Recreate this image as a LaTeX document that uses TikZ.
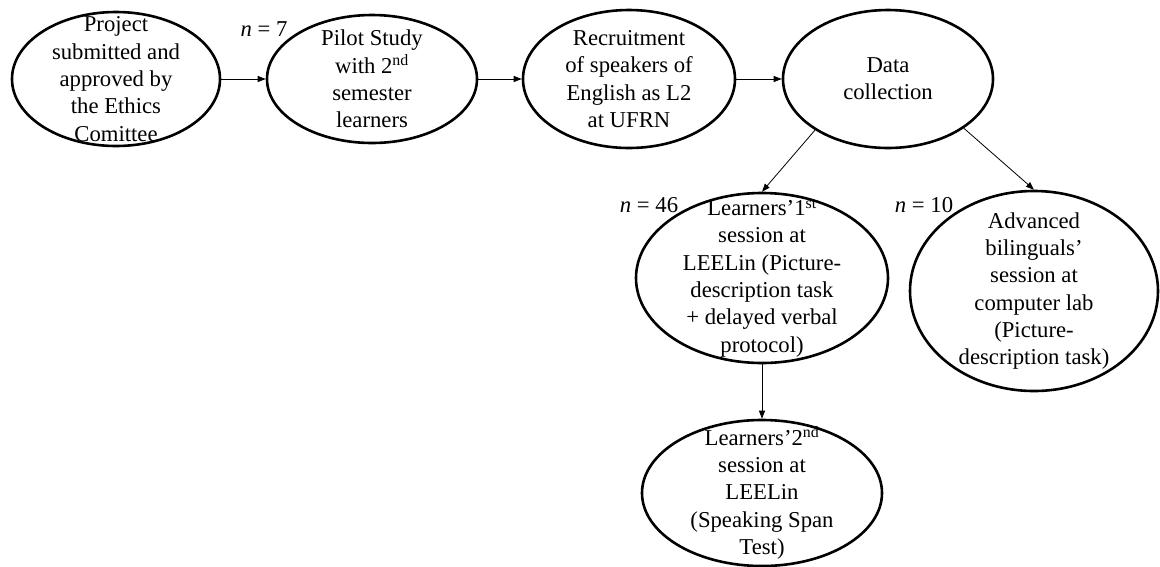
\documentclass[tikz,border=0pt]{standalone}
\usepackage{fontspec}
\setmainfont{Liberation Serif}
\usetikzlibrary{shapes.geometric,arrows.meta}
\begin{document}
\begin{tikzpicture}[x=1pt,y=-1pt,
  el/.style={ellipse, draw, line width=2.6pt, inner sep=0pt},
  txt/.style={align=center, inner sep=0pt, font=\fontsize{22.7}{27.3}\selectfont},
  arr/.style={-{Triangle[length=8pt,width=6pt]}, line width=0.8pt},
  lab/.style={font=\fontsize{22.7}{27.3}\selectfont, inner sep=0pt}]
\useasboundingbox (0,0) rectangle (1160,566);
\node[el, minimum width=208pt, minimum height=134pt] (proj) at (116,79) {};
\node[txt] (projt) at (proj) {Project\\submitted and\\approved by\\the Ethics\\Comittee};
\node[el, minimum width=210pt, minimum height=128pt] (pilot) at (372,79) {};
\node[txt] (pilott) at (pilot) {Pilot Study\\with 2\textsuperscript{nd}\\semester\\learners};
\node[el, minimum width=212pt, minimum height=138pt] (recr) at (629,79) {};
\node[txt] (recrt) at (recr) {Recruitment\\of speakers of\\English as L2\\at UFRN};
\node[el, minimum width=210pt, minimum height=138pt] (data) at (888,79) {};
\node[txt] (datat) at (data) {Data\\collection};
\node[el, minimum width=252pt, minimum height=170pt] (lone) at (762,278) {};
\node[txt] (lonet) at (lone) {Learners’1\textsuperscript{st}\\session at\\LEELin (Picture-\\description task\\+ delayed verbal\\protocol)};
\node[el, minimum width=248pt, minimum height=200pt] (adv) at (1034,291) {};
\node[txt] (advt) at (adv) {Advanced\\bilinguals’\\session at\\computer lab\\(Picture-\\description task)};
\node[el, minimum width=240pt, minimum height=146pt] (ltwo) at (762,493) {};
\node[txt] (ltwot) at (ltwo) {Learners’2\textsuperscript{nd}\\session at\\LEELin\\(Speaking Span\\Test)};
\node[lab] (n7) at (264,29) {\textit{n} = 7};
\node[lab] (n46) at (649,205) {\textit{n} = 46};
\node[lab] (n10) at (924,205) {\textit{n} = 10};
\draw[arr] (proj.east) -- (pilot.west);
\draw[arr] (pilot.east) -- (recr.west);
\draw[arr] (recr.east) -- (data.west);
\draw[arr] (data.215) -- (lone.north);
\draw[arr] (data.327) -- (adv.north);
\draw[arr] (lone.south) -- (ltwo.north);
\end{tikzpicture}
\end{document}
